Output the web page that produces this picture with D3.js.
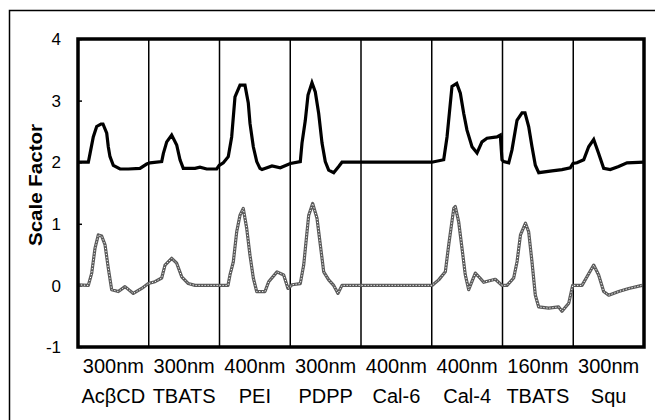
<!DOCTYPE html>
<html><head><meta charset="utf-8">
<script src="https://cdn.jsdelivr.net/npm/d3@7"></script>
<style>body{margin:0;background:#fff}svg{display:block}text{font-family:"Liberation Sans",Arial,sans-serif}</style>
</head><body><svg id="c" width="655" height="420"></svg>
<script>
const wavelengths = ["300nm","300nm","400nm","300nm","400nm","400nm","160nm","300nm"];
const compounds = ["AcβCD","TBATS","PEI","PDPP","Cal-6","Cal-4","TBATS","Squ"];
const yTicks = [-1,0,1,2,3,4];

// position along x in section units (0..8), and value
const blackPos = [0,0.146,0.17,0.216,0.264,0.325,0.353,0.406,0.428,0.452,0.499,0.594,0.711,0.876,0.971,1.018,1.183,1.206,1.254,1.324,1.395,1.442,1.488,1.654,1.724,1.819,1.96,1.997,2.054,2.124,2.172,2.219,2.29,2.36,2.407,2.431,2.478,2.526,2.572,2.601,2.742,2.859,3.001,3.142,3.166,3.213,3.251,3.307,3.354,3.402,3.449,3.495,3.543,3.614,3.685,3.731,5.0,5.169,5.216,5.286,5.353,5.404,5.452,5.498,5.569,5.64,5.71,5.781,5.922,5.969,5.993,6.017,6.088,6.134,6.205,6.276,6.318,6.37,6.417,6.464,6.512,6.7,6.841,6.958,6.996,7.053,7.148,7.218,7.289,7.359,7.43,7.523,7.642,7.76,8.0];
const blackVal = [2.0,2.0,2.14,2.41,2.58,2.62,2.62,2.47,2.25,2.09,1.95,1.89,1.89,1.9,1.97,1.99,2.01,2.14,2.33,2.44,2.28,2.04,1.9,1.9,1.92,1.89,1.89,1.95,1.99,2.09,2.41,3.06,3.25,3.25,2.96,2.63,2.25,2.01,1.9,1.88,1.94,1.91,1.98,2.01,2.31,2.68,3.09,3.29,3.14,2.79,2.31,2.01,1.87,1.83,1.93,2.0,2.0,2.04,2.41,3.23,3.28,3.12,2.79,2.52,2.25,2.15,2.33,2.39,2.41,2.44,2.04,2.01,1.99,2.2,2.68,2.8,2.8,2.58,2.25,1.95,1.83,1.86,1.88,1.91,1.98,1.99,2.04,2.25,2.37,2.14,1.9,1.88,1.93,1.99,2.0];

const grayPos = [0,0.146,0.194,0.24,0.287,0.335,0.382,0.428,0.476,0.57,0.664,0.782,0.9,0.994,1.088,1.183,1.23,1.324,1.395,1.466,1.559,1.654,2.12,2.148,2.195,2.243,2.29,2.336,2.384,2.431,2.478,2.526,2.643,2.695,2.813,2.907,2.968,3.025,3.142,3.19,3.237,3.261,3.317,3.378,3.425,3.473,3.543,3.614,3.675,3.731,5.004,5.098,5.192,5.24,5.311,5.333,5.381,5.428,5.474,5.522,5.616,5.682,5.734,5.898,5.993,6.064,6.158,6.205,6.254,6.325,6.37,6.417,6.464,6.512,6.653,6.794,6.841,6.936,6.992,7.124,7.194,7.289,7.359,7.43,7.501,7.642,7.784,7.972];
const grayVal = [0.01,0.0,0.2,0.6,0.82,0.8,0.66,0.28,-0.07,-0.1,-0.02,-0.13,-0.05,0.03,0.06,0.12,0.33,0.44,0.36,0.14,0.03,0.0,0.0,0.17,0.38,0.87,1.14,1.25,0.93,0.49,0.12,-0.1,-0.1,0.06,0.22,0.17,-0.05,0.01,0.03,0.33,0.87,1.14,1.33,1.09,0.66,0.22,0.09,0.0,-0.13,0.0,0.0,0.09,0.22,0.66,1.25,1.28,1.03,0.6,0.17,-0.07,0.2,0.12,0.05,0.1,0.0,0.0,0.12,0.38,0.82,1.01,0.87,0.38,-0.16,-0.35,-0.37,-0.35,-0.42,-0.29,0.0,0.0,0.14,0.33,0.17,-0.1,-0.16,-0.1,-0.05,0.0];

const svg = d3.select("#c");
const L = 78, R = 644, T = 39, B = 347;
const x = d3.scaleLinear().domain([0, 8]).range([L, R]);
const y = d3.scaleLinear().domain([-1, 4]).range([B, T]);

// outer frame
svg.append("rect").attr("x", 9.5).attr("y", 10.5).attr("width", 700).attr("height", 500)
  .attr("fill", "none").attr("stroke", "#000").attr("stroke-width", 1.5);

// section separators
svg.append("g").selectAll("line").data(d3.range(1, 8)).join("line")
  .attr("x1", d => x(d)).attr("x2", d => x(d)).attr("y1", T).attr("y2", B)
  .attr("stroke", "#000").attr("stroke-width", 1.5);

// y axis ticks + labels
const yAxis = d3.axisRight(y).tickValues(yTicks).tickSize(4).tickFormat("");
const ga = svg.append("g").attr("transform", `translate(${L},0)`).call(yAxis);
ga.select(".domain").remove();
ga.selectAll("line").attr("stroke", "#000").attr("stroke-width", 1.5);
svg.append("g").selectAll("text").data(yTicks).join("text")
  .attr("x", 61).attr("y", d => y(d)).attr("dy", "0.36em")
  .attr("text-anchor", "end").attr("font-size", 17).text(d => d);

// y label
svg.append("text").attr("transform", "translate(42,185) rotate(-90)")
  .attr("text-anchor", "middle").attr("font-size", 19).attr("font-weight", "bold")
  .attr("textLength", 122).attr("lengthAdjust", "spacingAndGlyphs")
  .text("Scale Factor");

// x labels
svg.append("g").selectAll("text").data(wavelengths).join("text")
  .attr("x", (d, i) => x(i + 0.5)).attr("y", 373)
  .attr("text-anchor", "middle").attr("font-size", 20).text(d => d);
svg.append("g").selectAll("text").data(compounds).join("text")
  .attr("x", (d, i) => x(i + 0.5)).attr("y", 403)
  .attr("text-anchor", "middle").attr("font-size", 20).text(d => d);

// lines
const line = d3.line().x(d => x(d[0])).y(d => y(d[1]));
const blackData = blackPos.map((p, i) => [p, blackVal[i]]);
const grayData = grayPos.map((p, i) => [p, grayVal[i]]);

svg.append("path").datum(grayData).attr("d", line).attr("fill", "none")
  .attr("stroke", "#5a5a5a").attr("stroke-width", 3.2).attr("stroke-linejoin", "round");
svg.append("path").datum(grayData).attr("d", line).attr("fill", "none")
  .attr("stroke", "#fff").attr("stroke-width", 1).attr("stroke-dasharray", "1.2,1.8");

svg.append("path").datum(blackData).attr("d", line).attr("fill", "none")
  .attr("stroke", "#000").attr("stroke-width", 3.2).attr("stroke-linejoin", "miter");

// plot frame
svg.append("rect").attr("x", L).attr("y", T).attr("width", R - L).attr("height", B - T)
  .attr("fill", "none").attr("stroke", "#000").attr("stroke-width", 3.5);
</script></body></html>
